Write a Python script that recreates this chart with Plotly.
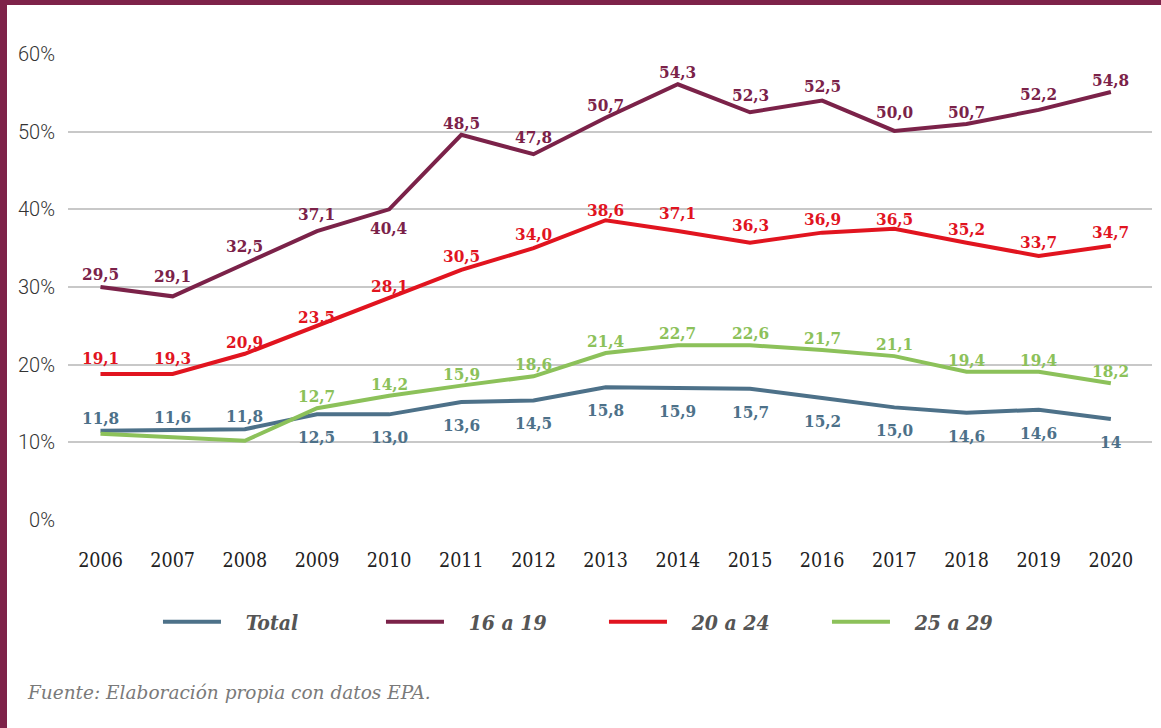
import plotly.graph_objects as go

years = list(range(2006, 2021))

# line values (%)
total = [11.5, 11.6, 11.7, 13.6, 13.6, 15.2, 15.4, 17.1, 17.0, 16.9, 15.7, 14.5, 13.8, 14.2, 13.0]
g16_19 = [30.0, 28.8, 33.0, 37.2, 40.0, 49.6, 47.1, 51.8, 56.1, 52.5, 54.0, 50.1, 51.0, 52.8, 55.1]
g20_24 = [18.8, 18.8, 21.4, 25.0, 28.5, 32.2, 35.0, 38.6, 37.2, 35.7, 37.0, 37.5, 35.7, 34.0, 35.3]
g25_29 = [11.1, 10.7, 10.2, 14.4, 16.0, 17.3, 18.5, 21.5, 22.5, 22.5, 21.9, 21.1, 19.1, 19.1, 17.6]

# data labels as printed on the chart
lab_total = ["11,8", "11,6", "11,8", "12,5", "13,0", "13,6", "14,5", "15,8", "15,9", "15,7", "15,2", "15,0", "14,6", "14,6", "14"]
lab_16_19 = ["29,5", "29,1", "32,5", "37,1", "40,4", "48,5", "47,8", "50,7", "54,3", "52,3", "52,5", "50,0", "50,7", "52,2", "54,8"]
lab_20_24 = ["19,1", "19,3", "20,9", "23,5", "28,1", "30,5", "34,0", "38,6", "37,1", "36,3", "36,9", "36,5", "35,2", "33,7", "34,7"]
lab_25_29 = ["", "", "", "12,7", "14,2", "15,9", "18,6", "21,4", "22,7", "22,6", "21,7", "21,1", "19,4", "19,4", "18,2"]

y_ticks = [0, 10, 20, 30, 40, 50, 60]
y_ticktext = ["0%", "10%", "20%", "30%", "40%", "50%", "60%"]

series = [
    ("Total", total, lab_total, "#4D7189"),
    ("16 a 19", g16_19, lab_16_19, "#7B2249"),
    ("20 a 24", g20_24, lab_20_24, "#E1141F"),
    ("25 a 29", g25_29, lab_25_29, "#8CC15A"),
]

# label offsets in px (positive = up)
shifts = {
    "Total": [13, 13, 13] + [-23] * 12,
    "16 a 19": [13, 20, 18, 17, -19, 12, 17, 13, 12, 17, 15, 19, 12, 16, 12],
    "20 a 24": [16, 16, 12, 9, 13, 14, 14, 10, 18, 18, 14, 10, 14, 14, 14],
    "25 a 29": [12] * 15,
}

fig = go.Figure()
for name, vals, labs, col in series:
    fig.add_trace(go.Scatter(
        x=years, y=vals, name="\u00a0\u00a0\u00a0" + name, mode="lines",
        line=dict(color=col, width=4),
        hoverinfo="skip",
    ))

annotations = []
for name, vals, labs, col in series:
    for x, y, t, s in zip(years, vals, labs, shifts[name]):
        if not t:
            continue
        annotations.append(dict(
            x=x, y=y, xref="x", yref="y", text=t, showarrow=False,
            yshift=s, xanchor="center", yanchor="middle",
            font=dict(family="DejaVu Serif Condensed", size=17, color=col, weight="bold"),
        ))

annotations.append(dict(
    text="Fuente: Elaboración propia con datos EPA.",
    xref="paper", yref="paper", x=(25 - 68) / 1084, y=(520 - 692) / 466,
    xanchor="left", yanchor="middle", showarrow=False,
    font=dict(family="DejaVu Serif", size=18.5, color="#7a7a7a", style="italic"),
))

border = "#7E2249"
shapes = [
    dict(type="rect", xref="paper", yref="paper",
         x0=-68 / 1084, x1=(7 - 68) / 1084, y0=(520 - 728) / 466, y1=520 / 466,
         fillcolor=border, line=dict(width=0), layer="above"),
    dict(type="rect", xref="paper", yref="paper",
         x0=-68 / 1084, x1=1093 / 1084, y0=(520 - 5) / 466, y1=520 / 466,
         fillcolor=border, line=dict(width=0), layer="above"),
]

fig.update_layout(
    width=1161, height=728,
    margin=dict(l=68, r=9, t=54, b=208),
    paper_bgcolor="white", plot_bgcolor="white",
    showlegend=True,
    legend=dict(
        orientation="h", x=0.083, y=(520 - 622) / 466, xanchor="left", yanchor="middle",
        itemwidth=58, entrywidth=150, entrywidthmode="pixels",
        font=dict(family="DejaVu Serif Condensed", size=21, color="#555555", weight="bold", style="italic"),
        itemclick=False, itemdoubleclick=False,
    ),
    xaxis=dict(
        range=[2006 - 0.45, 2020 + 0.57], tickmode="array", tickvals=years,
        ticktext=[str(y) for y in years], showgrid=False, zeroline=False,
        showline=False, ticks="", ticklabelstandoff=26,
        tickfont=dict(family="DejaVu Serif Condensed", size=19.5, color="#222222"),
    ),
    yaxis=dict(
        range=[0, 60], tickmode="array", tickvals=y_ticks, ticktext=y_ticktext,
        showgrid=True, gridcolor="#c8c8c8", gridwidth=1.5, zeroline=False,
        showline=False, ticks="", ticklabelstandoff=12,
        tickfont=dict(family="Roboto", size=20, color="#333333", weight=300),
    ),
    annotations=annotations,
    shapes=shapes,
)

fig.write_html("out.html")
